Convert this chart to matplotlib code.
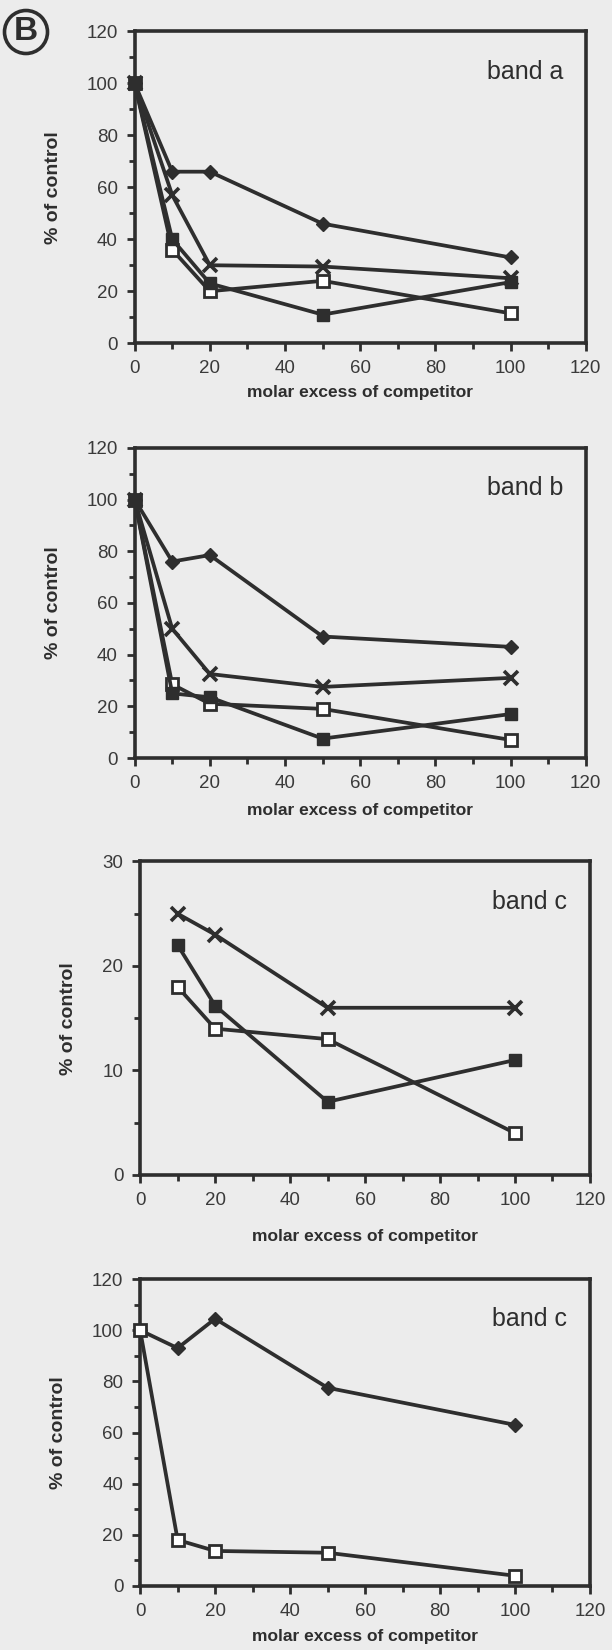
import matplotlib.pyplot as plt
from matplotlib.ticker import MultipleLocator

# molar excess of competitor
x_full = [0, 10, 20, 50, 100]
x_c = [10, 20, 50, 100]

# band a
a_diamond = [100, 66, 66, 46, 33]
a_cross = [100, 57, 30, 29.5, 25]
a_open = [100, 36, 20, 24, 11.5]
a_filled = [100, 40, 23, 11, 23.5]

# band b
b_diamond = [100, 76, 78.5, 47, 43]
b_cross = [100, 50, 32.5, 27.5, 31]
b_open = [100, 28.5, 21, 19, 7]
b_filled = [100, 25, 23.5, 7.5, 17]

# band c (upper panel)
c_cross = [25, 23, 16, 16]
c_filled = [22, 16.2, 7, 11]
c_open = [18, 14, 13, 4]

# band c (lower panel)
d_diamond = [100, 93, 104.5, 77.5, 63]
d_open = [100, 18, 13.7, 13, 4]

INK = "#2e2e2e"
BG = "#ececec"

plt.rcParams["font.family"] = ["Liberation Sans", "DejaVu Sans"]

fig = plt.figure(figsize=(6.12, 16.5), dpi=100)
fig.patch.set_facecolor(BG)


def series(ax, x, y, kind):
    style = dict(color=INK, linewidth=2.7, clip_on=False, zorder=3)
    if kind == "diamond":
        ax.plot(x, y, marker="D", markersize=7, markerfacecolor=INK,
                markeredgecolor=INK, **style)
    elif kind == "cross":
        ax.plot(x, y, marker="x", markersize=10, markeredgewidth=2.6,
                markeredgecolor=INK, **style)
    elif kind == "open":
        ax.plot(x, y, marker="s", markersize=8, markerfacecolor="white",
                markeredgewidth=2.0, markeredgecolor=INK, **style)
    else:
        ax.plot(x, y, marker="s", markersize=8, markerfacecolor=INK,
                markeredgecolor=INK, **style)


def panel(rect, ymax, ystep, label, xlab_y):
    ax = fig.add_axes(rect)
    ax.set_facecolor(BG)
    ax.set_xlim(0, 120)
    ax.set_ylim(0, ymax)
    ax.xaxis.set_major_locator(MultipleLocator(20))
    ax.xaxis.set_minor_locator(MultipleLocator(10))
    ax.yaxis.set_major_locator(MultipleLocator(ystep))
    ax.yaxis.set_minor_locator(MultipleLocator(ystep / 2))
    ax.tick_params(which="both", direction="out", color=INK, width=2.0)
    ax.tick_params(which="major", length=6, labelsize=13.5, labelcolor="#3a3a3a", pad=6)
    ax.tick_params(which="minor", length=4)
    for s in ax.spines.values():
        s.set_linewidth(2.6)
        s.set_color(INK)
    ax.set_ylabel("% of control", fontsize=14, fontweight="bold", color=INK,
                  labelpad=18)
    ax.text(0.95, 0.87, label, transform=ax.transAxes, ha="right", va="center",
            fontsize=18, color=INK)
    fig.text(rect[0] + rect[2] / 2, xlab_y, "molar excess of competitor",
             ha="center", va="center", fontsize=12.5, fontweight="bold", color=INK)
    return ax


ax1 = panel([0.22, 0.792, 0.737, 0.189], 120, 20, "band a", 1 - 392 / 1650)
series(ax1, x_full, a_diamond, "diamond")
series(ax1, x_full, a_cross, "cross")
series(ax1, x_full, a_open, "open")
series(ax1, x_full, a_filled, "filled")

ax2 = panel([0.22, 0.5406, 0.737, 0.188], 120, 20, "band b", 1 - 811 / 1650)
series(ax2, x_full, b_diamond, "diamond")
series(ax2, x_full, b_cross, "cross")
series(ax2, x_full, b_open, "open")
series(ax2, x_full, b_filled, "filled")

ax3 = panel([0.229, 0.2879, 0.735, 0.19], 30, 10, "band c", 1 - 1237 / 1650)
series(ax3, x_c, c_cross, "cross")
series(ax3, x_c, c_filled, "filled")
series(ax3, x_c, c_open, "open")

ax4 = panel([0.229, 0.0388, 0.735, 0.186], 120, 20, "band c", 1 - 1637 / 1650)
series(ax4, x_full, d_diamond, "diamond")
series(ax4, x_full, d_open, "open")

# panel letter
fig.text(26 / 612, 1 - 32 / 1650, "B", ha="center", va="center", fontsize=24,
         fontweight="bold", color=INK,
         bbox=dict(boxstyle="circle,pad=0.18", facecolor="none", edgecolor=INK,
                   linewidth=2.6))

fig.savefig("out.png", dpi=100, facecolor=BG)
